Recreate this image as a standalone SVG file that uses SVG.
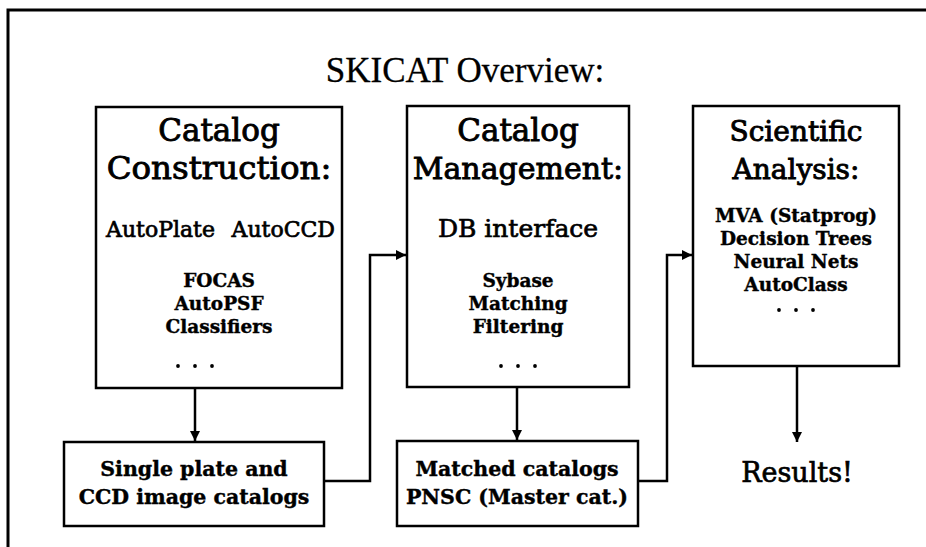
<svg xmlns="http://www.w3.org/2000/svg" width="926" height="547" viewBox="0 0 926 547">
<style>
.box{fill:#fff;stroke:#000;stroke-width:2.5}
.frame{fill:none;stroke:#000;stroke-width:3}
.con{fill:none;stroke:#000;stroke-width:2.5}
text{fill:#000;text-anchor:middle}
.title{font-family:"Liberation Serif",serif;font-size:35px;stroke:#000;stroke-width:0.3}
.h{font-family:"DejaVu Serif",serif;font-size:31px;stroke:#000;stroke-width:0.9}
.m{font-family:"DejaVu Serif",serif;font-size:25px;stroke:#000;stroke-width:0.7}
.b{font-family:"DejaVu Serif",serif;font-size:18.5px;font-weight:bold;stroke:#000;stroke-width:0.4}
.bb{font-family:"DejaVu Serif",serif;font-size:20.5px;font-weight:bold;stroke:#000;stroke-width:0.4}
.r{font-family:"DejaVu Serif",serif;font-size:27px;stroke:#000;stroke-width:0.7}
.dot{fill:#000}
</style>
<defs>
<marker id="ah" markerUnits="userSpaceOnUse" markerWidth="10" markerHeight="10" refX="10" refY="5" orient="auto">
<path d="M0,0 L10,5 L0,10 z" fill="#000"/>
</marker>
</defs>
<path class="frame" d="M8,547 V10 H926"/>
<text class="title" x="465" y="82">SKICAT Overview:</text>
<g id="construction">
<rect class="box" x="96" y="107" width="246" height="281"/>
<text class="h" x="219" y="141">Catalog</text>
<text class="h" x="219" y="179" style="font-size:32.5px">Construction:</text>
<text class="m" x="106" y="237" style="text-anchor:start;font-size:22px">AutoPlate</text>
<text class="m" x="335" y="237" style="text-anchor:end;font-size:22px">AutoCCD</text>
<text class="b" x="219" y="287">FOCAS</text>
<text class="b" x="219" y="310">AutoPSF</text>
<text class="b" x="219" y="333">Classifiers</text>
<circle class="dot" cx="178" cy="366" r="1.9"/><circle class="dot" cx="195" cy="366" r="1.9"/><circle class="dot" cx="212" cy="366" r="1.9"/>
</g>
<g id="management">
<rect class="box" x="407" y="106" width="222" height="281"/>
<text class="h" x="518" y="141">Catalog</text>
<text class="h" x="518" y="179" style="font-size:30px">Management:</text>
<text class="m" x="518" y="237">DB interface</text>
<text class="b" x="518" y="287">Sybase</text>
<text class="b" x="518" y="310">Matching</text>
<text class="b" x="518" y="333">Filtering</text>
<circle class="dot" cx="501" cy="366" r="1.9"/><circle class="dot" cx="518" cy="366" r="1.9"/><circle class="dot" cx="535" cy="366" r="1.9"/>
</g>
<g id="analysis">
<rect class="box" x="693" y="106" width="206" height="260"/>
<text class="h" x="796" y="141" style="font-size:28px">Scientific</text>
<text class="h" x="796" y="179" style="font-size:28px">Analysis:</text>
<text class="b" x="796" y="222">MVA (Statprog)</text>
<text class="b" x="796" y="245">Decision Trees</text>
<text class="b" x="796" y="268">Neural Nets</text>
<text class="b" x="796" y="291">AutoClass</text>
<circle class="dot" cx="779" cy="310" r="1.9"/><circle class="dot" cx="796" cy="310" r="1.9"/><circle class="dot" cx="813" cy="310" r="1.9"/>
</g>
<g id="single">
<rect class="box" x="64" y="442" width="260" height="84"/>
<text class="bb" x="194" y="476">Single plate and</text>
<text class="bb" x="194" y="504">CCD image catalogs</text>
</g>
<g id="matched">
<rect class="box" x="397" y="441" width="241" height="85"/>
<text class="bb" x="517" y="476">Matched catalogs</text>
<text class="bb" x="517" y="504">PNSC (Master cat.)</text>
</g>
<g id="results">
<text class="r" x="797" y="482">Results!</text>
</g>
<g id="connectors">
<path class="con" d="M195,388 V441" marker-end="url(#ah)"/>
<path class="con" d="M324,481 H370 V255 H406" marker-end="url(#ah)"/>
<path class="con" d="M517,387 V440" marker-end="url(#ah)"/>
<path class="con" d="M638,481 H667 V255 H692" marker-end="url(#ah)"/>
<path class="con" d="M797,366 V442" marker-end="url(#ah)"/>
</g>
</svg>
